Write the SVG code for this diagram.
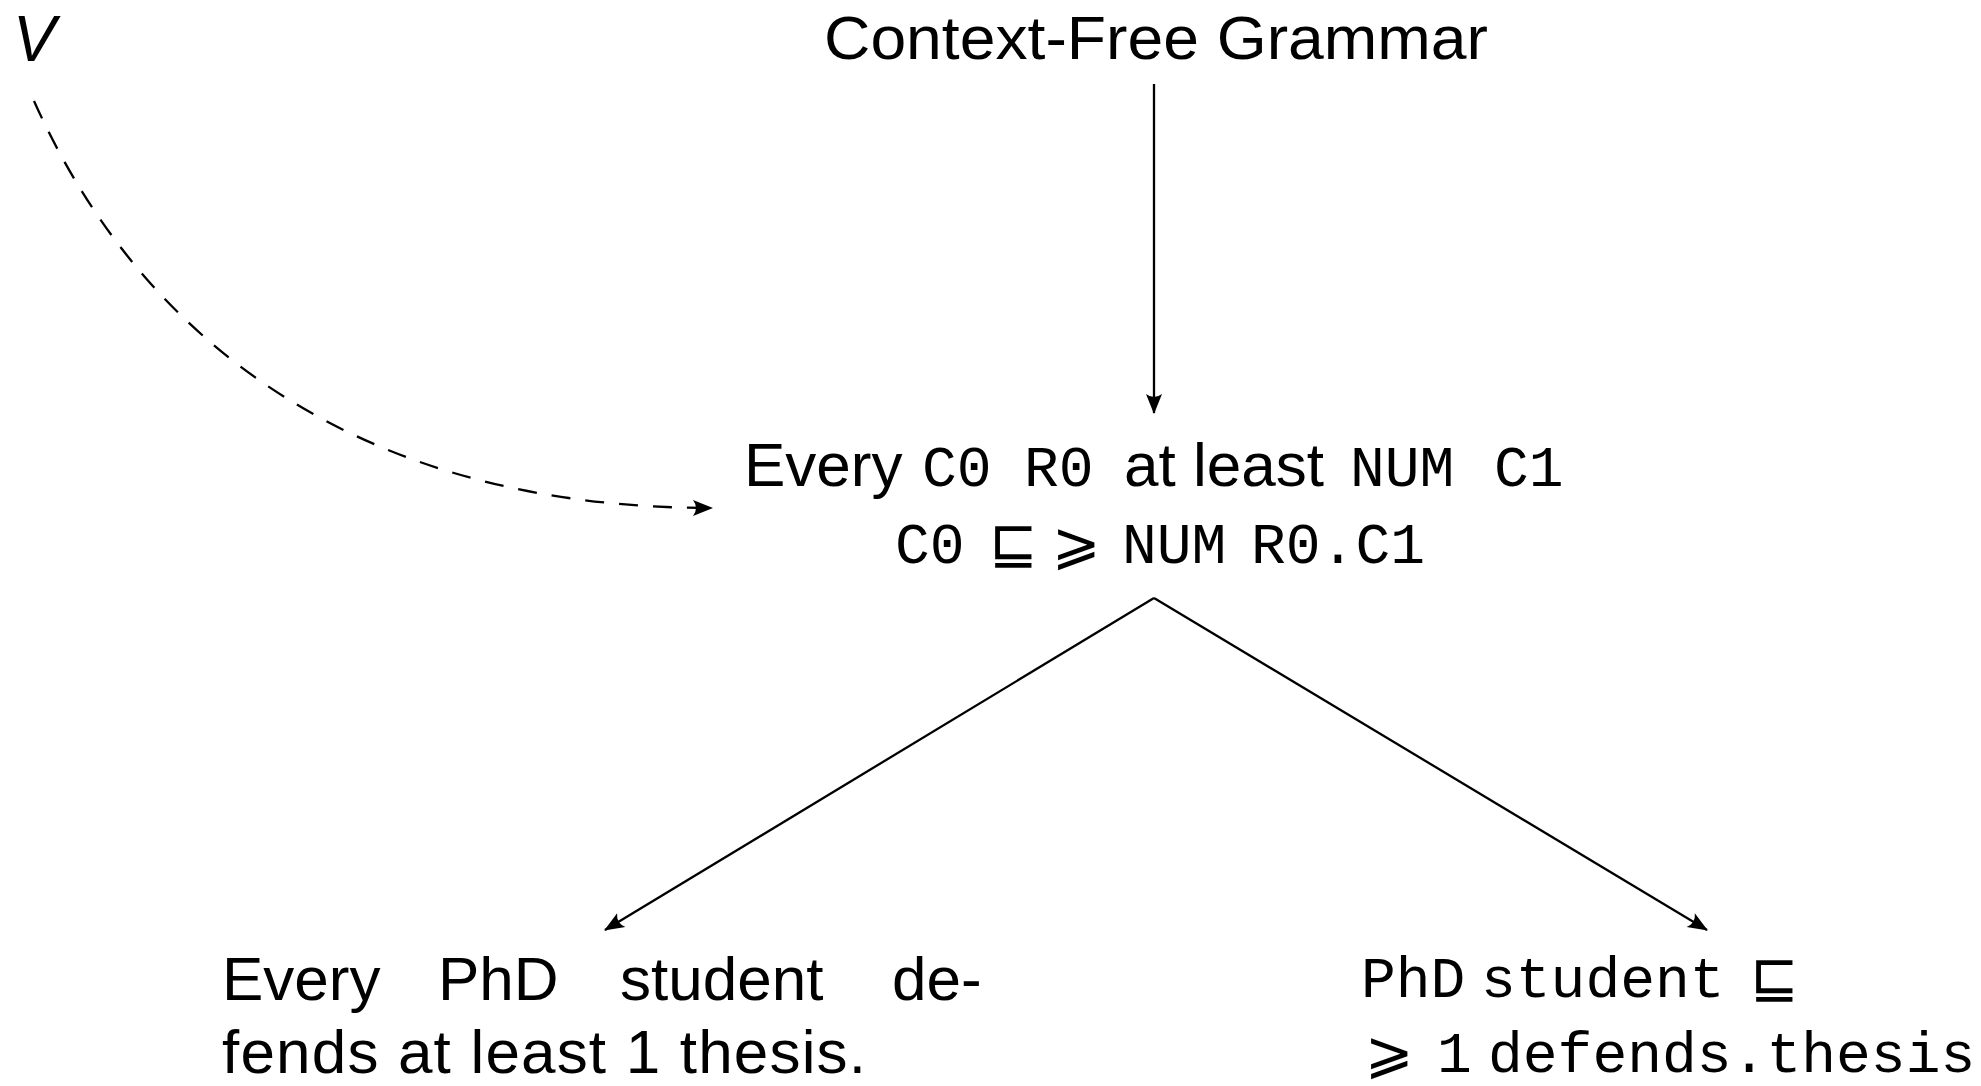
<svg xmlns="http://www.w3.org/2000/svg" width="1981" height="1086" viewBox="0 0 1981 1086">
<defs>
<style>
.sans{font-family:"Liberation Sans",Arial,sans-serif;font-size:62px;fill:#000}
.tt{font-family:"Liberation Mono","Courier New",monospace;font-size:58px;fill:#000}
.math{font-family:"DejaVu Sans","Noto Sans",sans-serif;font-size:58px;fill:#000}
.it{font-family:"Liberation Sans",Arial,sans-serif;font-size:64px;font-style:italic;fill:#000}
.edge{fill:none;stroke:#000;stroke-width:2.3;marker-end:url(#arr)}
.dash{stroke-dasharray:19 15}
</style>
<marker id="arr" viewBox="-22 -10 24 20" refX="0" refY="0" markerWidth="24" markerHeight="20" markerUnits="userSpaceOnUse" orient="auto">
<path d="M1,0 L-19,-8 Q-13,0 -19,8 Z" fill="#000"/>
</marker>
</defs>
<rect width="1981" height="1086" fill="#fff"/>
<g id="connectors">
<path class="edge" d="M1154,84 L1154,413"/>
<path class="edge dash" d="M34,101 C150,360 380,508 712,508"/>
<path class="edge" d="M1154,598 L605,930"/>
<path class="edge" d="M1154,598 L1707,930"/>
</g>
<g id="node-V">
<text class="it" x="13" y="61">V</text>
</g>
<g id="node-cfg">
<text class="sans" x="824" y="59" textLength="664" lengthAdjust="spacingAndGlyphs">Context-Free Grammar</text>
</g>
<g id="node-template">
<text class="sans" x="744" y="486">Every</text>
<text class="tt" x="922" y="486">C0</text>
<text class="tt" x="1024" y="486">R0</text>
<text class="sans" x="1124" y="486">at least</text>
<text class="tt" x="1350" y="486">NUM</text>
<text class="tt" x="1494" y="486">C1</text>
<text class="tt" x="895" y="563">C0</text>
<text class="math" x="989" y="563">⊑</text>
<text class="math" x="1052" y="563">⩾</text>
<text class="tt" x="1122" y="563">NUM</text>
<text class="tt" x="1251" y="563">R0.C1</text>
</g>
<g id="node-text">
<text class="sans" x="222" y="1000">Every</text>
<text class="sans" x="438" y="1000">PhD</text>
<text class="sans" x="620" y="1000">student</text>
<text class="sans" x="892" y="1000">de-</text>
<text class="sans" x="222" y="1073" textLength="644">fends at least 1 thesis.</text>
</g>
<g id="node-axiom">
<text class="tt" x="1361" y="997">PhD</text>
<text class="tt" x="1481" y="997">student</text>
<text class="math" x="1750" y="997">⊑</text>
<text class="math" x="1365" y="1072">⩾</text>
<text class="tt" x="1437" y="1072">1</text>
<text class="tt" x="1488" y="1072">defends.thesis</text>
</g>
</svg>
